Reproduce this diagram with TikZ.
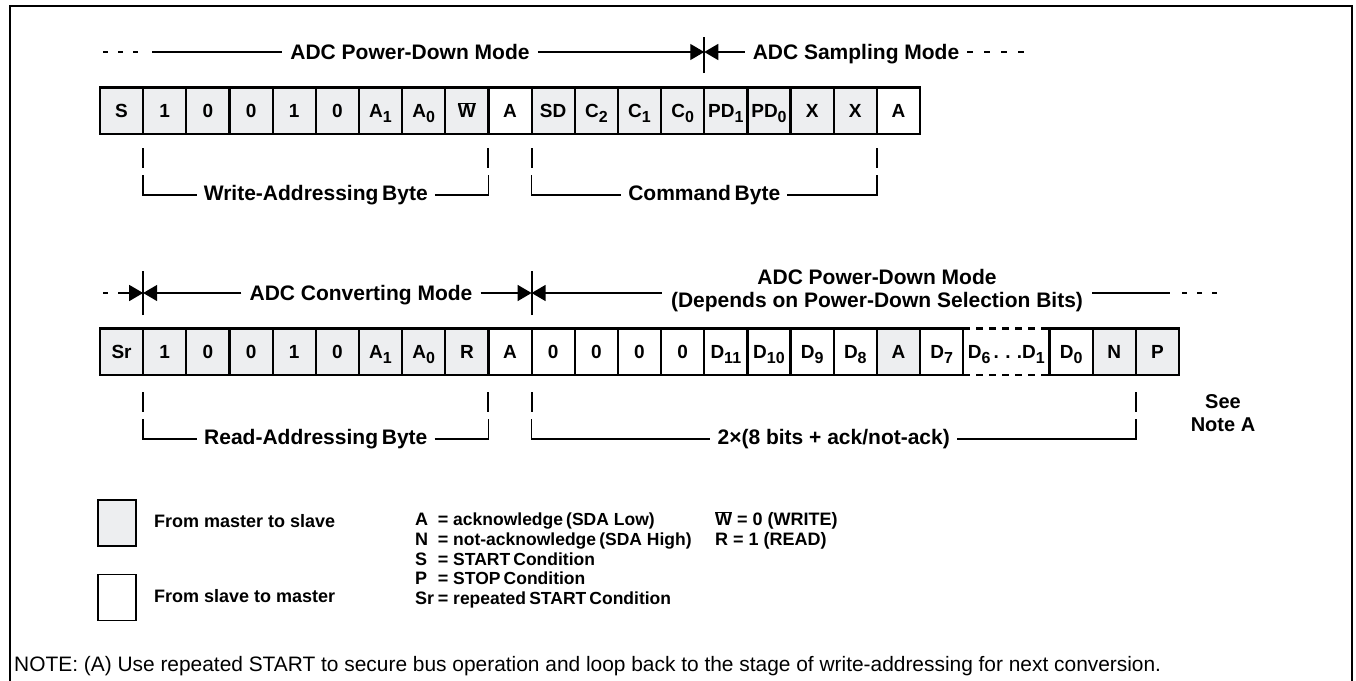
\documentclass[tikz,border=0pt]{standalone}
\usepackage{fontspec}
\setmainfont{Liberation Sans}
\usetikzlibrary{arrows.meta,positioning,calc}

\definecolor{mgray}{RGB}{237,238,240}
\newcommand{\lowidx}[1]{\raisebox{-4.5pt}{\fontsize{16}{16}\selectfont #1}}
\newcommand{\wbar}{$\overline{\mbox{W}}$}
\newcommand{\tsp}{\hspace{0.18em}}

\tikzset{
  frame/.style={line width=2.6pt},
  bit/.style={draw, line width=2.2pt, minimum width=43.16pt, minimum height=46.5pt,
    inner sep=0pt, outer sep=0pt, anchor=north west, text height=14pt, text depth=0pt,
    font=\bfseries\fontsize{19}{21}\selectfont},
  head/.style={inner xsep=8pt, inner ysep=0pt, text height=15pt, text depth=0pt,
    font=\bfseries\fontsize{21}{23}\selectfont},
  brlabel/.style={inner xsep=7pt, inner ysep=0pt, font=\bfseries\fontsize{21}{23.5}\selectfont},
  legend/.style={inner sep=0pt, text height=13pt, text depth=4pt,
    font=\bfseries\fontsize{18}{20}\selectfont},
  key/.style={draw, line width=1.8pt, minimum width=38pt, minimum height=46pt, inner sep=0pt},
  rule/.style={line width=1.4pt},
  tick/.style={line width=2pt},
  mode/.style={line width=1.4pt, -{Triangle[length=14pt,width=16pt]}},
}

\begin{document}
\begin{tikzpicture}[x=1pt,y=-1pt]
\useasboundingbox (0,0) rectangle (1356,680);
\draw[frame] (10,690) -- (10,6) -- (1352,6) -- (1352,690);

% write: address byte + command byte
\foreach \lab/\col [count=\i from 0] in {S/mgray,1/mgray,0/mgray,0/mgray,1/mgray,0/mgray,{A\lowidx{1}}/mgray,{A\lowidx{0}}/mgray,{\wbar}/mgray,A/white,SD/mgray,{C\lowidx{2}}/mgray,{C\lowidx{1}}/mgray,{C\lowidx{0}}/mgray,{PD\lowidx{1}}/mgray,{PD\lowidx{0}}/mgray,X/mgray,X/mgray,A/white}
  \node[bit, fill=\col] (w\i) at ({100+43.16*\i},87.5) {\lab};

% read: address byte + two data bytes
\foreach \lab/\col [count=\i from 0] in {Sr/mgray,1/mgray,0/mgray,0/mgray,1/mgray,0/mgray,{A\lowidx{1}}/mgray,{A\lowidx{0}}/mgray,R/mgray,A/white,0/white,0/white,0/white,0/white,{D\lowidx{11}}/white,{D\lowidx{10}}/white,{D\lowidx{9}}/white,{D\lowidx{8}}/white,A/mgray,{D\lowidx{7}}/white}
  \node[bit, fill=\col] (r\i) at ({100+43.16*\i},328.5) {\lab};
\node[bit, draw=none, minimum width=86.32pt, right=0pt of r19] (r20) {D\lowidx{6}\,.\,\,.\,\,.D\lowidx{1}};
\node[bit, fill=white, right=0pt of r20] (r21) {D\lowidx{0}};
\node[bit, fill=mgray, right=0pt of r21] (r22) {N};
\node[bit, fill=mgray, right=0pt of r22] (r23) {P};
\draw[line width=2.2pt, dash pattern=on 7pt off 6pt] (r20.north west) -- (r20.north east) (r20.south west) -- (r20.south east);

% byte brackets
\foreach \p/\q/\s/\txt/\nm in {w1/w9/14/{Write-Addressing\tsp Byte}/wab, w10/w18/14/{Command\tsp Byte}/cmd, r1/r9/17/{Read-Addressing\tsp Byte}/rab, r10/r23/17/{2×(8 bits + ack/not-ack)}/dat}{
  \path (\p.south west) ++(0,\s) coordinate (\nm1) ++(0,20) coordinate (\nm2) ++(0,7) coordinate (\nm3) ++(0,20) coordinate (\nm4);
  \path (\q.south west) ++(0,\s) coordinate (\nm5) ++(0,20) coordinate (\nm6) ++(0,7) coordinate (\nm7) ++(0,20) coordinate (\nm8);
  \node[brlabel] (\nm) at ($(\nm4)!0.5!(\nm8)$) {\txt};
  \draw[tick] (\nm1) -- (\nm2) (\nm5) -- (\nm6);
  \draw[rule] (\nm3) -- (\nm4) -- (\nm.west) (\nm.east) -- (\nm8) -- (\nm7);
}

% modes, write part
\node[head] (pdw) at (410,52) {ADC Power-Down Mode};
\node[head] (smp) at (856,52) {ADC Sampling Mode};
\coordinate (t1) at (w14.north west |- pdw);
\coordinate (pdwD) at (103,52);
\coordinate (pdwS) at (152,52);
\coordinate (smpE) at (1034,52);
\draw[tick] ([yshift=-21pt]t1) -- ([yshift=15pt]t1);
\draw[rule, dash pattern=on 5pt off 10pt] (pdwD) -- ([xshift=-8pt]pdwS);
\draw[rule] (pdwS) -- (pdw.west);
\draw[mode] (pdw.east) -- (t1);
\draw[mode] (smp.west) -- (t1);
\draw[rule, dash pattern=on 6pt off 11pt] (smp.east) -- (smpE);

% modes, read part
\node[head] (cnv) at (361,293) {ADC Converting Mode};
\node[brlabel, inner xsep=9pt, align=center] (pdr) at (877,290.5) {ADC Power-Down Mode\\(Depends on Power-Down Selection Bits)};
\coordinate (c1) at (r1.north west |- cnv);
\coordinate (c2) at (r10.north west |- cnv);
\coordinate (cnvD) at (103,293);
\coordinate (cnvS) at (118,293);
\coordinate (pdrS) at (1170,293);
\coordinate (pdrD) at (1222,293);
\draw[tick] ([yshift=-22pt]c1) -- ([yshift=22pt]c1);
\draw[tick] ([yshift=-22pt]c2) -- ([yshift=22pt]c2);
\draw[rule] (cnvD) -- ([xshift=5pt]cnvD);
\draw[mode] (cnvS) -- (c1);
\draw[mode] (cnv.west) -- (c1);
\draw[mode] (cnv.east) -- (c2);
\draw[mode] (pdr.west |- c2) -- (c2);
\draw[rule] (pdr.east |- pdrS) -- (pdrS);
\draw[rule, dash pattern=on 5pt off 10pt] ([xshift=12pt]pdrS) -- (pdrD);

\node[brlabel, align=center, font=\bfseries\fontsize{20}{23.5}\selectfont] (see) at (1223,413) {See\\Note A};

% legend
\node[key, fill=mgray] (kms) at (117,523) {};
\node[key, fill=white] (ksm) at (117,597.5) {};
\node[legend, right=17pt of kms] (tms) {From master to slave};
\node[legend, right=17pt of ksm] (tsm) {From slave to master};
\foreach \k/\v [count=\j from 0] in {A/{acknowledge\tsp(SDA Low)}, N/{not-acknowledge\tsp(SDA High)}, S/{START\tsp Condition}, P/{STOP\tsp Condition}, Sr/{repeated\tsp START\tsp Condition}}{
  \node[legend, anchor=west] (sym\j) at (415,{521+19.75*\j}) {\k};
  \node[legend] (eq\j) at (443,{521+19.75*\j}) {=};
  \node[legend, anchor=west, font=\bfseries\fontsize{17.5}{20}\selectfont] (def\j) at (453,{521+19.75*\j}) {\v};
}
\node[legend, anchor=west] (wdef) at (715,521) {\wbar\ = 0 (WRITE)};
\node[legend, anchor=west] (rdef) at (715,541) {R = 1 (READ)};

\node[inner sep=0pt, anchor=west, font=\fontsize{20.9}{23}\selectfont] (note) at (14,666) {NOTE: (A) Use repeated START to secure bus operation and loop back to the stage of write-addressing for next conversion.};
\end{tikzpicture}
\end{document}
